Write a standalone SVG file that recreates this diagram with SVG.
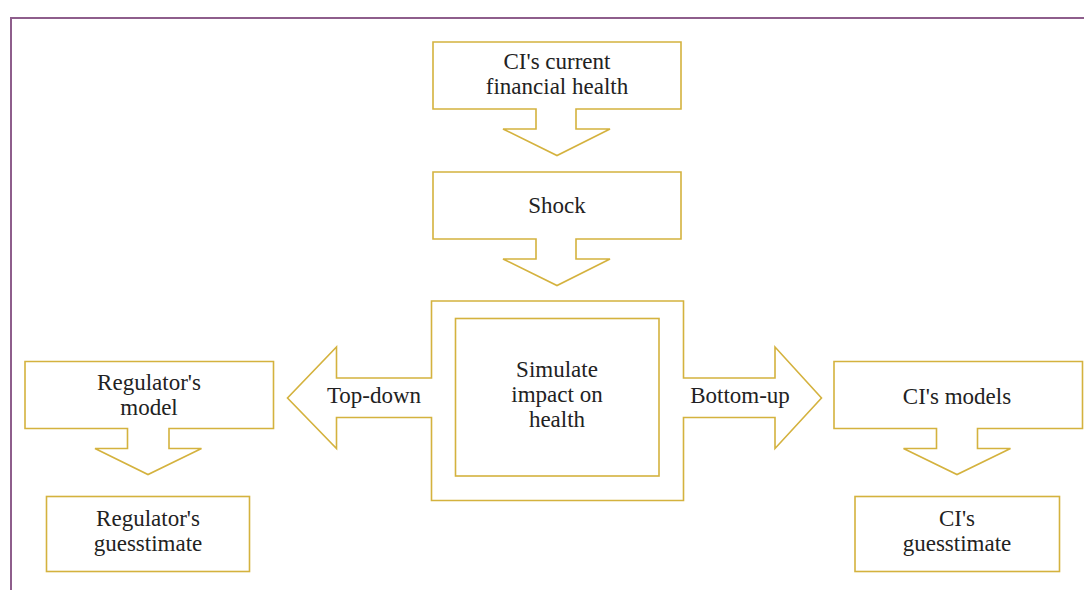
<svg xmlns="http://www.w3.org/2000/svg" width="1084" height="590" viewBox="0 0 1084 590">
<style>
.shape{fill:#fff;stroke:#D4B23E;stroke-width:1.6;stroke-linejoin:miter}
.lbl{font-family:"Liberation Serif","Times New Roman",serif;font-size:23px;fill:#222;text-anchor:middle}
.frame{fill:none;stroke:#8E5E8C;stroke-width:2}
</style>
<rect width="1084" height="590" fill="#fff"/>
<path class="frame" d="M11,590 V18 H1084"/>
<g id="connectors">
<polygon id="center-arrows" class="shape" points="431.5,301 683.5,301 683.5,378 775,378 775,347 821.5,398 775,448.5 775,417.5 683.5,417.5 683.5,500.5 431.5,500.5 431.5,417.5 336.5,417.5 336.5,448.5 287.5,398 336.5,347 336.5,378 431.5,378"/>
<text class="lbl" x="374" y="403">Top-down</text>
<text class="lbl" x="740" y="403">Bottom-up</text>
</g>
<g id="current-health">
<polygon class="shape" points="433,42 681,42 681,109 576,109 576,129 610,129 557,155.5 503,129 536,129 536,109 433,109"/>
<text class="lbl" x="557" y="68.5">CI's current</text>
<text class="lbl" x="557" y="93.5">financial health</text>
</g>
<g id="shock">
<polygon class="shape" points="433,172 681,172 681,239 576,239 576,259 610,259 557,285.5 503,259 536,259 536,239 433,239"/>
<text class="lbl" x="557" y="213">Shock</text>
</g>
<g id="simulate">
<rect class="shape" x="455.5" y="318.5" width="203.5" height="157.5"/>
<text class="lbl" x="557" y="377">Simulate</text>
<text class="lbl" x="557" y="402">impact on</text>
<text class="lbl" x="557" y="427">health</text>
</g>
<g id="regulator-model">
<polygon class="shape" points="25,361.5 273.5,361.5 273.5,428.5 169,428.5 169,448.5 201.5,448.5 148,474.5 95,448.5 127.5,448.5 127.5,428.5 25,428.5"/>
<text class="lbl" x="149" y="389.5">Regulator's</text>
<text class="lbl" x="149" y="414.5">model</text>
</g>
<g id="regulator-guesstimate">
<rect class="shape" x="46.5" y="496.5" width="203" height="75"/>
<text class="lbl" x="148" y="526">Regulator's</text>
<text class="lbl" x="148" y="551">guesstimate</text>
</g>
<g id="ci-models">
<polygon class="shape" points="834,361.5 1082.5,361.5 1082.5,428.5 977.5,428.5 977.5,448.5 1010.5,448.5 957,474.5 903.5,448.5 936.5,448.5 936.5,428.5 834,428.5"/>
<text class="lbl" x="957" y="404">CI's models</text>
</g>
<g id="ci-guesstimate">
<rect class="shape" x="855" y="496.5" width="204.5" height="75"/>
<text class="lbl" x="957" y="526">CI's</text>
<text class="lbl" x="957" y="551">guesstimate</text>
</g>
</svg>
